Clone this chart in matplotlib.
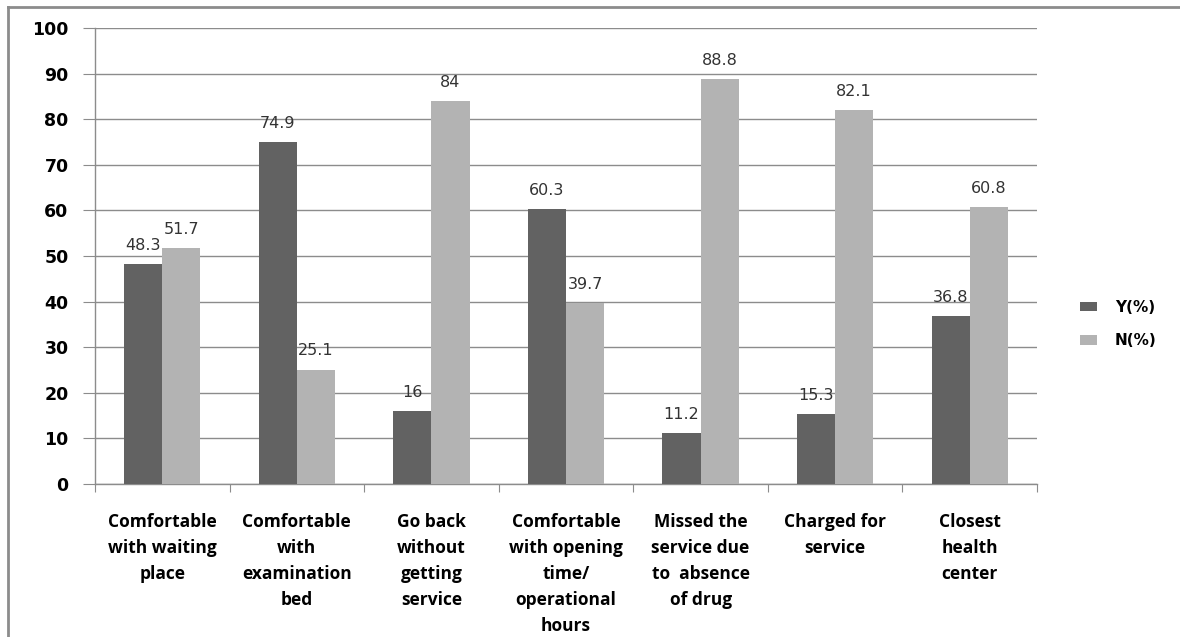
import matplotlib
matplotlib.use("Agg")
import matplotlib.pyplot as plt
from matplotlib.lines import Line2D
import numpy as np

categories = [
    "Comfortable\nwith waiting\nplace",
    "Comfortable\nwith\nexamination\nbed",
    "Go back\nwithout\ngetting\nservice",
    "Comfortable\nwith opening\ntime/\noperational\nhours",
    "Missed the\nservice due\nto  absence\nof drug",
    "Charged for\nservice",
    "Closest\nhealth\ncenter",
]
y_values = [48.3, 74.9, 16, 60.3, 11.2, 15.3, 36.8]
n_values = [51.7, 25.1, 84, 39.7, 88.8, 82.1, 60.8]
y_labels = ["48.3", "74.9", "16", "60.3", "11.2", "15.3", "36.8"]
n_labels = ["51.7", "25.1", "84", "39.7", "88.8", "82.1", "60.8"]
series_names = ["Y(%)", "N(%)"]
yticks = list(range(0, 101, 10))

W, H = 1180, 637
fig = plt.figure(figsize=(W / 100, H / 100), dpi=100)
ax = fig.add_axes([95 / W, 1 - 484 / H, (1037 - 95) / W, (484 - 28) / H])

x = np.arange(len(categories))
bw = 0.283
dark = "#626262"
light = "#b3b3b3"
b1 = ax.bar(x - bw / 2, y_values, bw, color=dark, zorder=3, label=series_names[0])
b2 = ax.bar(x + bw / 2, n_values, bw, color=light, zorder=3, label=series_names[1])

for xi, v, lab in zip(x - bw / 2, y_values, y_labels):
    ax.annotate(lab, (xi, v), xytext=(0, 8), textcoords="offset points",
                ha="center", va="bottom", fontsize=11.5, color="#333333",
                family="DejaVu Sans")
for xi, v, lab in zip(x + bw / 2, n_values, n_labels):
    ax.annotate(lab, (xi, v), xytext=(0, 8), textcoords="offset points",
                ha="center", va="bottom", fontsize=11.5, color="#333333",
                family="DejaVu Sans")

ax.set_xlim(-0.5, len(categories) - 0.5)
ax.set_ylim(0, 100)
ax.set_yticks(yticks)
ax.set_yticklabels([str(t) for t in yticks], fontsize=12.5, fontweight="bold",
                   family="DejaVu Sans")
ax.yaxis.grid(True, color="#8c8c8c", linewidth=1, zorder=0)
ax.tick_params(axis="y", length=9, color="#8c8c8c", pad=10)

ax.set_xticks(np.arange(-0.5, len(categories) + 0.5, 1))
ax.set_xticklabels([])
ax.tick_params(axis="x", length=6, color="#8c8c8c")
ax.set_xticks(x, minor=True)
ax.set_xticklabels(categories, minor=True, fontsize=12.5, fontweight="bold",
                   family="Open Sans", linespacing=1.56, va="top")
ax.tick_params(axis="x", which="minor", length=0, pad=21)

for s in ["top", "right"]:
    ax.spines[s].set_visible(False)
for s in ["left", "bottom"]:
    ax.spines[s].set_color("#8c8c8c")
    ax.spines[s].set_linewidth(1)

leg = fig.legend(handles=[b1, b2], loc="center left",
                 bbox_to_anchor=(1066 / W, 1 - 324 / H), frameon=False,
                 prop={"family": "DejaVu Sans", "weight": "bold", "size": 11},
                 handlelength=1.1, handleheight=0.6, labelspacing=1.2,
                 handletextpad=1.2)

fig.add_artist(Line2D([8 / W, 1], [1 - 6.5 / H, 1 - 6.5 / H], transform=fig.transFigure,
                      color="#8c8c8c", linewidth=2))
fig.add_artist(Line2D([8 / W, 8 / W], [0, 1 - 6.5 / H], transform=fig.transFigure,
                      color="#8c8c8c", linewidth=2))

fig.savefig("out.png", dpi=100)
